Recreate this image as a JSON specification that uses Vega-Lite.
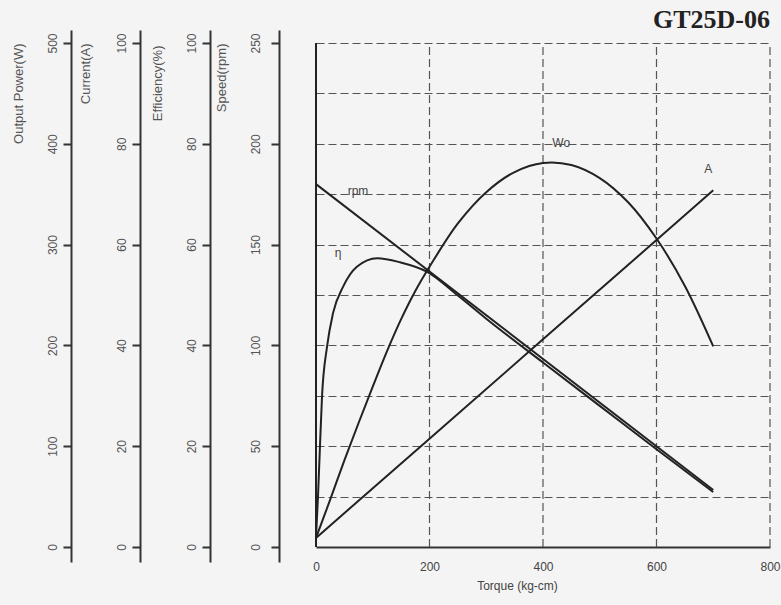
{
  "$schema": "https://vega.github.io/schema/vega-lite/v6.json",
  "autosize": "none",
  "width": 454,
  "height": 532,
  "padding": {"left": 316, "top": 30, "right": 11, "bottom": 43},
  "background": "#f4f4f4",
  "title": {"text": "GT25D-06", "anchor": "end", "frame": "group", "font": "Liberation Serif", "fontSize": 26, "fontWeight": "bold", "color": "#222222", "offset": -3},
  "config": {"view": {"stroke": null}, "font": "Liberation Sans"},
  "datasets": {
    "vgrid": [{"torque": 200}, {"torque": 400}, {"torque": 600}, {"torque": 800}],
    "frame": [{"torque": 0}],
    "wo": [
      {"torque": 0, "power": 9}, {"torque": 25, "power": 47}, {"torque": 50, "power": 86}, {"torque": 75, "power": 123},
      {"torque": 100, "power": 159}, {"torque": 125, "power": 194}, {"torque": 150, "power": 226}, {"torque": 175, "power": 254},
      {"torque": 200, "power": 278}, {"torque": 250, "power": 321}, {"torque": 300, "power": 352}, {"torque": 350, "power": 372},
      {"torque": 400, "power": 381}, {"torque": 450, "power": 379}, {"torque": 500, "power": 366}, {"torque": 550, "power": 342},
      {"torque": 600, "power": 306}, {"torque": 650, "power": 259}, {"torque": 700, "power": 199}
    ],
    "amp": [{"torque": 0, "current": 1.8}, {"torque": 200, "current": 21.5}, {"torque": 400, "current": 41.2}, {"torque": 600, "current": 60.9}, {"torque": 700, "current": 70.8}],
    "eff": [
      {"torque": 0, "eff": 1.8}, {"torque": 3.5, "eff": 10}, {"torque": 7, "eff": 20}, {"torque": 10.6, "eff": 29.8},
      {"torque": 19.4, "eff": 39.7}, {"torque": 30, "eff": 46.4}, {"torque": 47.6, "eff": 51.6}, {"torque": 72, "eff": 55.6},
      {"torque": 108, "eff": 57.3}, {"torque": 148, "eff": 56.5}, {"torque": 196, "eff": 54.6}, {"torque": 250, "eff": 49.9},
      {"torque": 300, "eff": 45.3}, {"torque": 400, "eff": 36.6}, {"torque": 500, "eff": 28.0}, {"torque": 600, "eff": 19.4},
      {"torque": 700, "eff": 10.9}
    ],
    "rpm": [{"torque": 0, "speed": 180}, {"torque": 700, "speed": 28.3}],
    "labels": [
      {"torque": 74, "pos": 70.6, "label": "rpm"},
      {"torque": 39, "pos": 58.3, "label": "η"},
      {"torque": 432, "pos": 80.2, "label": "Wo"},
      {"torque": 691, "pos": 75.0, "label": "A"}
    ]
  },
  "encoding": {
    "x": {
      "field": "torque", "type": "quantitative",
      "scale": {"domain": [0, 800], "nice": false, "zero": true},
      "axis": {
        "orient": "bottom", "offset": -15, "values": [0, 200, 400, 600, 800], "grid": false, "ticks": false,
        "domainColor": "#333333", "domainWidth": 2, "labelFlush": false, "labelPadding": 14,
        "labelFontSize": 12, "labelColor": "#444444", "title": "Torque (kg-cm)", "titleFontSize": 12,
        "titleFontWeight": "normal", "titleColor": "#444444", "titleX": 201, "titlePadding": 8
      }
    }
  },
  "layer": [
    {
      "data": {"name": "vgrid"},
      "mark": {"type": "rule", "color": "#555555", "strokeWidth": 1.2, "strokeDash": [8, 4]},
      "encoding": {
        "y": {"datum": 0, "type": "quantitative", "scale": {"domain": [-2.976, 102.579], "nice": false, "zero": false},
          "axis": {"orient": "left", "offset": 0, "values": [10, 20, 30, 40, 50, 60, 70, 80, 90, 100], "grid": true,
            "gridColor": "#555555", "gridWidth": 1.2, "gridDash": [8, 4], "domain": false, "ticks": false, "labels": false, "title": null}},
        "y2": {"datum": 100}
      }
    },
    {
      "data": {"name": "frame"},
      "mark": {"type": "rule", "color": "#222222", "strokeWidth": 2},
      "encoding": {
        "y": {"datum": 0, "type": "quantitative", "scale": {"domain": [-2.976, 102.579], "nice": false, "zero": false}, "axis": null},
        "y2": {"datum": 100}
      }
    },
    {
      "data": {"name": "wo"},
      "mark": {"type": "line", "color": "#222222", "strokeWidth": 2, "interpolate": "catmull-rom"},
      "encoding": {
        "y": {"field": "power", "type": "quantitative", "scale": {"domain": [-14.88, 512.9], "nice": false, "zero": false},
          "axis": {"orient": "left", "offset": 245, "values": [0, 100, 200, 300, 400, 500], "grid": false,
            "domainColor": "#333333", "domainWidth": 2, "tickColor": "#333333", "tickWidth": 2, "tickSize": 8,
            "labelAngle": -90, "labelAlign": "center", "labelBaseline": "bottom", "labelPadding": 4, "labelFontSize": 12, "labelColor": "#555555",
            "title": "Output Power(W)", "titleFontSize": 13, "titleFontWeight": "normal", "titleColor": "#555555",
            "titleAngle": -90, "titleAnchor": "end", "titleAlign": "right", "titleBaseline": "bottom", "titleY": 13, "titlePadding": 21}}
      }
    },
    {
      "data": {"name": "amp"},
      "mark": {"type": "line", "color": "#222222", "strokeWidth": 2},
      "encoding": {
        "y": {"field": "current", "type": "quantitative", "scale": {"domain": [-2.976, 102.579], "nice": false, "zero": false},
          "axis": {"orient": "left", "offset": 176, "values": [0, 20, 40, 60, 80, 100], "grid": false,
            "domainColor": "#333333", "domainWidth": 2, "tickColor": "#333333", "tickWidth": 2, "tickSize": 8,
            "labelAngle": -90, "labelAlign": "center", "labelBaseline": "bottom", "labelPadding": 4, "labelFontSize": 12, "labelColor": "#555555",
            "title": "Current(A)", "titleFontSize": 13, "titleFontWeight": "normal", "titleColor": "#555555",
            "titleAngle": -90, "titleAnchor": "end", "titleAlign": "right", "titleBaseline": "bottom", "titleY": 13, "titlePadding": 23}}
      }
    },
    {
      "data": {"name": "eff"},
      "mark": {"type": "line", "color": "#222222", "strokeWidth": 2, "interpolate": "monotone"},
      "encoding": {
        "y": {"field": "eff", "type": "quantitative", "scale": {"domain": [-2.976, 102.579], "nice": false, "zero": false},
          "axis": {"orient": "left", "offset": 106, "values": [0, 20, 40, 60, 80, 100], "grid": false,
            "domainColor": "#333333", "domainWidth": 2, "tickColor": "#333333", "tickWidth": 2, "tickSize": 8,
            "labelAngle": -90, "labelAlign": "center", "labelBaseline": "bottom", "labelPadding": 4, "labelFontSize": 12, "labelColor": "#555555",
            "title": "Efficiency(%)", "titleFontSize": 13, "titleFontWeight": "normal", "titleColor": "#555555",
            "titleAngle": -90, "titleAnchor": "end", "titleAlign": "right", "titleBaseline": "bottom", "titleY": 15, "titlePadding": 21}}
      }
    },
    {
      "data": {"name": "rpm"},
      "mark": {"type": "line", "color": "#222222", "strokeWidth": 2},
      "encoding": {
        "y": {"field": "speed", "type": "quantitative", "scale": {"domain": [-7.44, 256.45], "nice": false, "zero": false},
          "axis": {"orient": "left", "offset": 37, "values": [0, 50, 100, 150, 200, 250], "grid": false,
            "domainColor": "#333333", "domainWidth": 2, "tickColor": "#333333", "tickWidth": 2, "tickSize": 8,
            "labelAngle": -90, "labelAlign": "center", "labelBaseline": "bottom", "labelPadding": 9, "labelFontSize": 12, "labelColor": "#555555",
            "title": "Speed(rpm)", "titleFontSize": 13, "titleFontWeight": "normal", "titleColor": "#555555",
            "titleAngle": -90, "titleAnchor": "end", "titleAlign": "right", "titleBaseline": "bottom", "titleY": 13, "titlePadding": 21}}
      }
    },
    {
      "data": {"name": "labels"},
      "mark": {"type": "text", "fontSize": 12, "color": "#444444", "align": "center", "baseline": "middle"},
      "encoding": {
        "y": {"field": "pos", "type": "quantitative", "scale": {"domain": [-2.976, 102.579], "nice": false, "zero": false}, "axis": null},
        "text": {"field": "label"}
      }
    }
  ],
  "resolve": {"scale": {"y": "independent"}, "axis": {"y": "independent"}}
}
